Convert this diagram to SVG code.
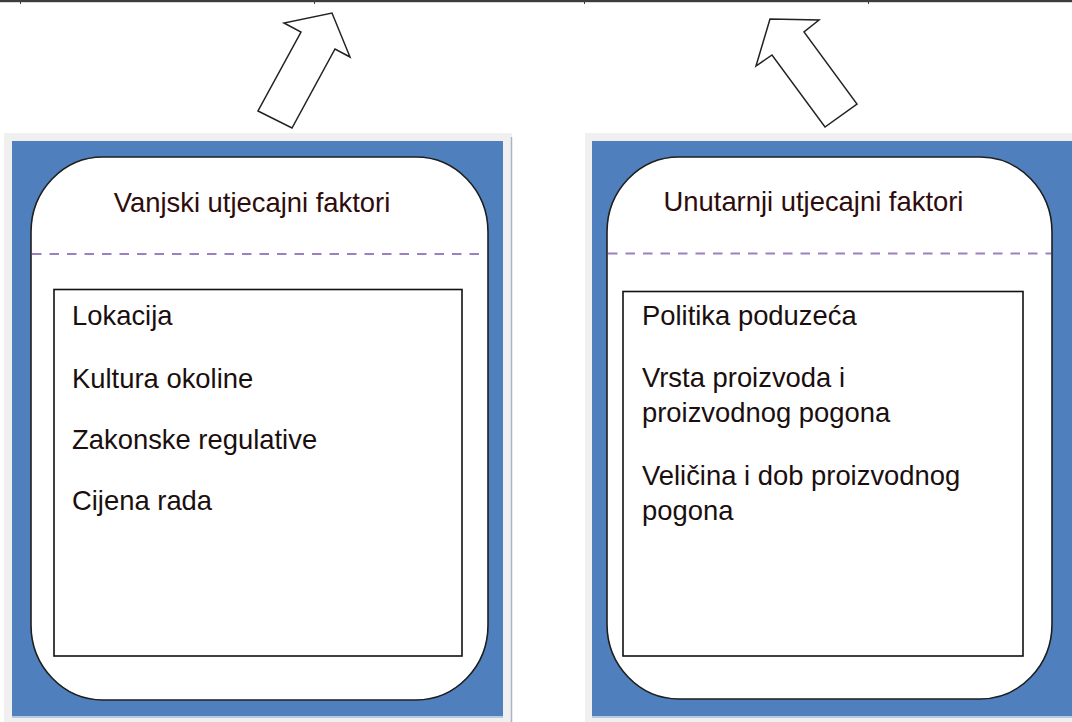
<svg xmlns="http://www.w3.org/2000/svg" width="1072" height="722" viewBox="0 0 1072 722">
<defs>
<style>
.frame{fill:#f0f0f0;}
.edge{stroke:#a9b4c6;stroke-width:1.5;}
.blue{fill:#4f80bd;}
.card{fill:#ffffff;stroke:#1e1e1e;stroke-width:1.6;}
.div{stroke:#9b80c2;stroke-width:2;stroke-dasharray:9.5 8;fill:none;}
.box{fill:#ffffff;stroke:#111111;stroke-width:1.6;}
.title{font-family:"Liberation Sans",Arial,sans-serif;font-size:27.4px;fill:#2e0c0c;text-anchor:middle;}
.item{font-family:"Liberation Sans",Arial,sans-serif;font-size:27.4px;fill:#1a0f0f;}
.arrow{fill:#ffffff;stroke:#222222;stroke-width:1.5;stroke-linejoin:miter;}
</style>
</defs>
<rect x="0" y="0" width="1072" height="722" fill="#ffffff"/>
<rect x="0" y="0" width="1072" height="2.2" fill="#3c3c3c"/>
<g fill="#3c3c3c">
<rect x="20" y="2" width="1" height="2"/>
<rect x="314" y="2" width="1" height="2"/>
<rect x="584" y="2" width="1" height="2"/>
<rect x="868" y="2" width="1" height="2"/>
</g>
<g id="connectors">
<polygon class="arrow" points="258,111 292,128 335,49 350,57 332,13 284,23 301,32"/>
<polygon class="arrow" points="756,66 770,19 819,20 804,32 857,104 825,127 772,55"/>
</g>
<g id="node-vanjski">
<rect class="frame" x="4" y="133" width="508" height="589"/>
<line class="edge" x1="511.5" y1="137" x2="511.5" y2="722"/>
<rect class="blue" x="12" y="141" width="491" height="575"/>
<line x1="12" y1="717" x2="503" y2="717" stroke="#a9bdd6" stroke-width="1.5"/>
<rect class="card" x="31" y="157" width="457" height="543" rx="72" ry="75"/>
<line class="div" x1="32" y1="254" x2="487" y2="254"/>
<rect class="box" x="54" y="289.5" width="408" height="366.5"/>
<text class="title" x="252" y="212">Vanjski utjecajni faktori</text>
<text class="item" x="72" y="325">Lokacija</text>
<text class="item" x="72" y="387.5">Kultura okoline</text>
<text class="item" x="72" y="448.5">Zakonske regulative</text>
<text class="item" x="72" y="510">Cijena rada</text>
</g>
<g id="node-unutarnji">
<rect class="frame" x="585" y="133" width="487" height="589"/>
<rect class="blue" x="592" y="141" width="480" height="575"/>
<line x1="592" y1="717" x2="1072" y2="717" stroke="#a9bdd6" stroke-width="1.5"/>
<rect class="card" x="607" y="157" width="445" height="542" rx="72" ry="75"/>
<line class="div" x1="608" y1="253.5" x2="1051" y2="253.5"/>
<rect class="box" x="623" y="291.5" width="400" height="364.5"/>
<text class="title" x="813.5" y="211">Unutarnji utjecajni faktori</text>
<text class="item" x="642" y="325">Politika poduzeća</text>
<text class="item" x="642" y="387">Vrsta proizvoda i</text>
<text class="item" x="642" y="422">proizvodnog pogona</text>
<text class="item" x="642" y="485">Veličina i dob proizvodnog</text>
<text class="item" x="642" y="520">pogona</text>
</g>
</svg>
